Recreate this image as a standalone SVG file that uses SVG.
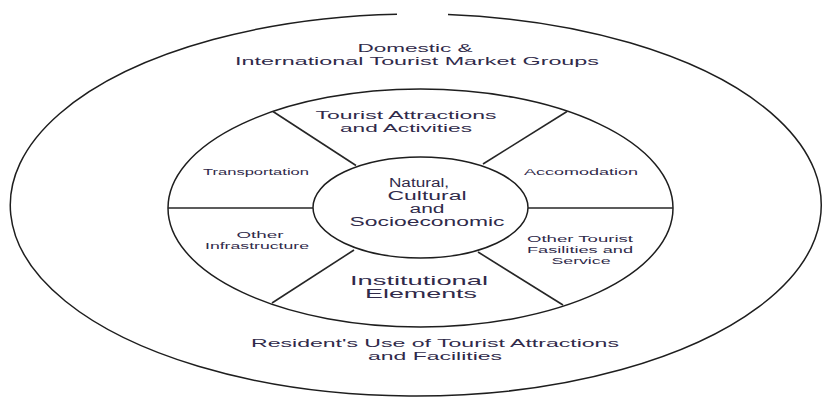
<svg xmlns="http://www.w3.org/2000/svg" width="824" height="397" viewBox="0 0 824 397">
  <style>
    .ring { fill: none; stroke: #1e1e1e; stroke-width: 1.5; }
    .spoke { fill: none; stroke: #262626; stroke-width: 1.6; }
    .lbl { font-family: "Liberation Sans", Arial, sans-serif; fill: #302a4a; text-anchor: middle; }
    .s { font-size: 8.3px; }
    .m { font-size: 10.6px; }
    .t { font-size: 11.5px; }
    .c { font-size: 12px; }
    .b { font-size: 13px; }
  </style>
  <rect width="824" height="397" fill="#ffffff"/>

  <!-- outer ring: market groups and residents -->
  <g id="outer-ring">
    <path class="ring" d="M 448 14.6 A 405.5 191 0 1 1 397 14.2"/>
    <text class="lbl m" x="415" y="52" textLength="115" lengthAdjust="spacingAndGlyphs">Domestic &amp;</text>
    <text class="lbl m" x="417" y="65" textLength="364" lengthAdjust="spacingAndGlyphs">International Tourist Market Groups</text>
    <text class="lbl m" x="435" y="347" textLength="368" lengthAdjust="spacingAndGlyphs">Resident's Use of Tourist Attractions</text>
    <text class="lbl m" x="435" y="360" textLength="134" lengthAdjust="spacingAndGlyphs">and Facilities</text>
  </g>

  <!-- middle ring boundary -->
  <g id="middle-ring">
    <ellipse class="ring" cx="420.5" cy="208" rx="252.5" ry="119"/>
  </g>

  <!-- ring segments -->
  <g id="attractions">
    <text class="lbl t" x="406" y="119" textLength="181" lengthAdjust="spacingAndGlyphs">Tourist Attractions</text>
    <text class="lbl t" x="406" y="132" textLength="132" lengthAdjust="spacingAndGlyphs">and Activities</text>
  </g>
  <g id="transportation">
    <text class="lbl s" x="256" y="175" textLength="106" lengthAdjust="spacingAndGlyphs">Transportation</text>
  </g>
  <g id="accomodation">
    <text class="lbl s" x="581" y="175" textLength="114" lengthAdjust="spacingAndGlyphs">Accomodation</text>
  </g>
  <g id="other-infrastructure">
    <text class="lbl s" x="260" y="238" textLength="47" lengthAdjust="spacingAndGlyphs">Other</text>
    <text class="lbl s" x="257" y="249" textLength="104" lengthAdjust="spacingAndGlyphs">Infrastructure</text>
  </g>
  <g id="other-facilities">
    <text class="lbl s" x="580" y="242" textLength="106" lengthAdjust="spacingAndGlyphs">Other Tourist</text>
    <text class="lbl s" x="580" y="253" textLength="106" lengthAdjust="spacingAndGlyphs">Fasilities and</text>
    <text class="lbl s" x="581" y="264" textLength="59" lengthAdjust="spacingAndGlyphs">Service</text>
  </g>
  <g id="institutional">
    <text class="lbl b" x="419" y="284.5" textLength="138" lengthAdjust="spacingAndGlyphs">Institutional</text>
    <text class="lbl b" x="421" y="298" textLength="112" lengthAdjust="spacingAndGlyphs">Elements</text>
  </g>

  <!-- core -->
  <g id="core">
    <ellipse class="ring" cx="420.5" cy="207.5" rx="107.5" ry="50.5"/>
    <text class="lbl c" x="419" y="187" textLength="60" lengthAdjust="spacingAndGlyphs">Natural,</text>
    <text class="lbl c" x="427" y="200" textLength="79" lengthAdjust="spacingAndGlyphs">Cultural</text>
    <text class="lbl c" x="427" y="213" textLength="35" lengthAdjust="spacingAndGlyphs">and</text>
    <text class="lbl c" x="427" y="226" textLength="155" lengthAdjust="spacingAndGlyphs">Socioeconomic</text>
  </g>

  <!-- dividers between segments -->
  <g id="connectors">
    <line class="spoke" x1="273" y1="111.5" x2="356" y2="165.5"/>
    <line class="spoke" x1="567" y1="111.5" x2="483" y2="164"/>
    <line class="spoke" x1="168" y1="208" x2="313" y2="208"/>
    <line class="spoke" x1="528" y1="208" x2="673" y2="208"/>
    <line class="spoke" x1="272" y1="303" x2="354" y2="250"/>
    <line class="spoke" x1="563" y1="305" x2="478" y2="252"/>
  </g>
</svg>
